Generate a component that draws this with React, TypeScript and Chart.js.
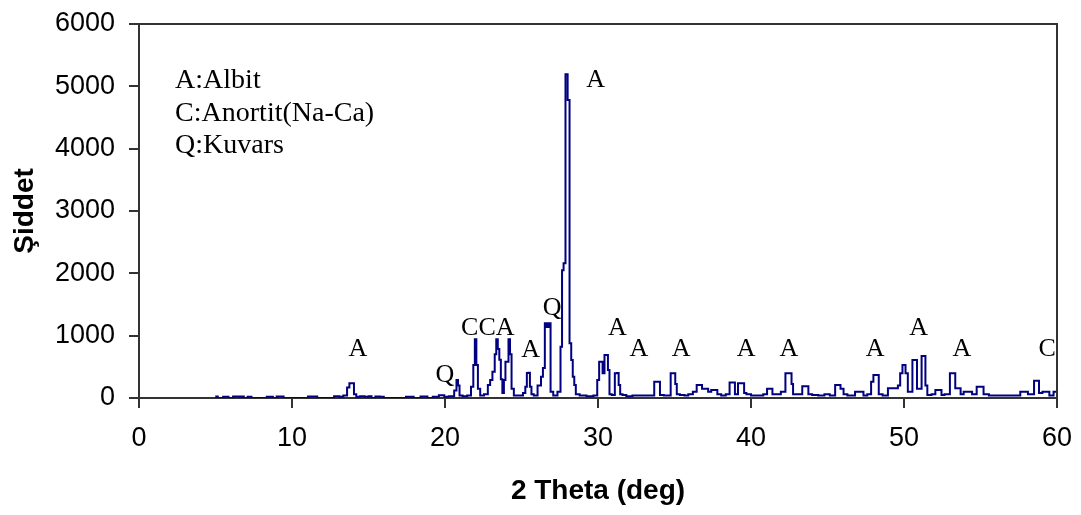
import React, { useEffect, useRef } from "react";
import { Chart, registerables } from "chart.js";

Chart.register(...registerables);

// 2-theta positions (deg) and measured intensities
const twoTheta: number[] = [
  5.0, 5.1, 5.2, 5.8, 5.9, 6.4, 6.6, 6.7, 6.8, 6.9, 7.3, 7.4, 8.0, 8.7, 8.8, 9.2, 9.4, 9.5, 10.5, 11.6, 11.7,
  12.5, 13.0, 13.2, 13.5, 13.7, 13.8, 14.0, 14.1, 14.3, 14.6, 14.9, 15.1, 15.3, 15.6, 15.9, 16.1, 17.0, 17.9,
  18.0, 18.8, 18.9, 19.5, 19.7, 19.9, 20.0, 20.5, 20.7, 20.8, 20.9, 21.0, 21.3, 21.6, 21.8, 21.9, 22.0, 22.1,
  22.2, 22.4, 22.7, 22.9, 23.0, 23.2, 23.3, 23.4, 23.5, 23.6, 23.7, 23.8, 23.9, 24.0, 24.1, 24.2, 24.3, 24.4,
  24.6, 25.0, 25.2, 25.3, 25.4, 25.5, 25.6, 25.7, 25.9, 26.2, 26.35, 26.45, 26.6, 26.7, 26.85, 26.95, 27.2,
  27.5, 27.6, 27.7, 27.8, 27.95, 28.08, 28.2, 28.3, 28.4, 28.5, 28.6, 29.0, 29.5, 29.9, 30.0, 30.15, 30.25,
  30.35, 30.5, 30.6, 30.7, 30.8, 31.0, 31.2, 31.3, 31.4, 31.5, 31.7, 32.0, 32.5, 33.0, 33.5, 33.85, 34.0,
  34.1, 34.5, 35.0, 35.1, 35.2, 35.5, 35.8, 36.0, 36.4, 36.5, 36.7, 36.9, 37.1, 37.3, 37.5, 37.7, 37.9, 38.2,
  38.5, 38.7, 38.9, 39.0, 39.3, 39.5, 39.6, 39.8, 40.2, 40.6, 41.0, 41.1, 41.3, 41.5, 41.8, 42.1, 42.4, 42.6,
  42.7, 42.8, 43.2, 43.5, 43.7, 43.8, 44.2, 44.6, 45.0, 45.3, 45.7, 46.0, 46.1, 46.5, 47.1, 47.3, 47.4, 47.8,
  47.9, 48.1, 48.3, 48.4, 48.8, 49.1, 49.3, 49.5, 49.7, 49.8, 50.0, 50.2, 50.3, 50.5, 50.6, 50.8, 50.9, 51.1,
  51.2, 51.35, 51.45, 51.6, 52.0, 52.1, 52.4, 52.5, 52.8, 53.2, 53.3, 53.4, 53.6, 53.8, 54.0, 54.3, 54.6,
  54.9, 55.1, 55.3, 55.8, 56.5, 57.0, 57.5, 57.7, 58.0, 58.2, 58.4, 58.6, 58.75, 58.9, 59.2, 59.4, 59.6, 59.95,
];

const intensity: number[] = [
  0, 25, 0, 20, 0, 25, 25, 0, 25, 0, 20, 0, 0, 20, 0, 25, 25, 0, 0, 25, 0,
  0, 30, 20, 40, 170, 236, 236, 60, 20, 30, 20, 30, 0, 25, 20, 0, 0, 20,
  0, 25, 0, 20, 45, 45, 20, 30, 120, 289, 200, 40, 30, 40, 180, 530, 942, 530,
  150, 40, 60, 209, 289, 422, 700, 942, 785, 615, 300, 80, 289, 583, 583, 942, 700, 150,
  40, 40, 80, 180, 400, 406, 180, 60, 40, 200, 340, 480, 1200, 1140, 1200, 100, 40,
  100, 824, 2050, 2160, 5193, 4781, 880, 610, 340, 210, 60, 40, 30, 40, 290, 583, 583,
  396, 690, 690, 449, 60, 50, 396, 400, 209, 60, 50, 30, 40, 40, 40, 262, 262,
  50, 40, 396, 224, 60, 50, 40, 60, 100, 209, 209, 150, 150, 100, 130, 130, 60, 40,
  60, 250, 250, 60, 235, 235, 80, 60, 40, 40, 60, 150, 150, 60, 60, 100, 396, 396,
  224, 60, 60, 190, 190, 60, 50, 40, 60, 40, 209, 150, 60, 40, 102, 102, 40, 60,
  262, 369, 369, 60, 40, 155, 155, 155, 200, 396, 530, 396, 100, 100, 610, 610, 150, 150,
  674, 674, 200, 50, 60, 128, 128, 50, 60, 396, 396, 155, 155, 60, 100, 100, 60,
  182, 182, 60, 40, 40, 40, 40, 102, 102, 60, 60, 278, 278, 80, 100, 100, 40, 100,
];

// Axis ticks
const xTicks: number[] = [0, 10, 20, 30, 40, 50, 60];
const yTicks: number[] = [0, 1000, 2000, 3000, 4000, 5000, 6000];

// Phase labels above peaks (2θ, intensity at text baseline)
const peakLabelText: string[] = ["A", "Q", "CCA", "A", "Q", "A", "A", "A", "A", "A", "A", "A", "A", "A", "C"];
const peakLabelX: number[] = [14.3, 20.0, 22.8, 25.6, 27.0, 29.84, 31.26, 32.68, 35.44, 39.68, 42.48, 48.12, 50.96, 53.79, 59.35];
const peakLabelY: number[] = [666, 257, 1011, 658, 1332, 4990, 1011, 666, 666, 666, 666, 666, 1011, 666, 666];

// Key text (top-left)
const keyLines: string[] = ["A:Albit", "C:Anortit(Na-Ca)", "Q:Kuvars"];
const keyX = 2.36;
const keyY: number[] = [4974, 4444, 3931];

const serif = '"Liberation Serif", "Times New Roman", serif';
const sans = '"Liberation Sans", Arial, sans-serif';

const textPlugin = {
  id: "peakText",
  beforeDatasetsDraw(chart: any) {
    const { ctx, chartArea } = chart;
    ctx.save();
    ctx.strokeStyle = "#333";
    ctx.lineWidth = 2;
    ctx.beginPath();
    ctx.moveTo(chartArea.left, chartArea.top);
    ctx.lineTo(chartArea.right, chartArea.top);
    ctx.lineTo(chartArea.right, chartArea.bottom);
    ctx.stroke();
    ctx.restore();
  },
  afterDatasetsDraw(chart: any) {
    const { ctx } = chart;
    const xs = chart.scales.x;
    const ys = chart.scales.y;
    ctx.save();
    ctx.fillStyle = "#000";
    ctx.font = `26px ${serif}`;
    ctx.textBaseline = "alphabetic";
    ctx.textAlign = "center";
    peakLabelText.forEach((t, i) => {
      ctx.fillText(t, xs.getPixelForValue(peakLabelX[i]), ys.getPixelForValue(peakLabelY[i]));
    });
    ctx.font = `28px ${serif}`;
    ctx.textAlign = "left";
    keyLines.forEach((t, i) => {
      ctx.fillText(t, xs.getPixelForValue(keyX), ys.getPixelForValue(keyY[i]));
    });
    ctx.restore();
  },
};

export default function App() {
  const ref = useRef<HTMLCanvasElement | null>(null);
  useEffect(() => {
    if (!ref.current) return;
    const data = twoTheta.map((x, i) => ({ x, y: intensity[i] }));
    const chart = new Chart(ref.current, {
      type: "line",
      data: {
        datasets: [
          {
            data,
            borderColor: "#000080",
            borderWidth: 2,
            pointRadius: 0,
            stepped: "middle",
            fill: false,
          },
        ],
      },
      options: {
        animation: false,
        responsive: false,
        layout: { padding: { top: 24, right: 24, left: 0, bottom: 0 } },
        plugins: { legend: { display: false }, tooltip: { enabled: false } },
        scales: {
          x: {
            type: "linear",
            min: 0,
            max: 60,
            afterBuildTicks: (s: any) => {
              s.ticks = xTicks.map((v) => ({ value: v }));
            },
            afterFit: (s: any) => {
              s.height = 117;
              s.paddingLeft = 0;
              s.paddingRight = 0;
            },
            ticks: { font: { size: 27, family: sans }, color: "#000", padding: 14, maxRotation: 0, callback: (v: any) => String(v) },
            grid: { drawOnChartArea: false, drawTicks: true, tickLength: 10, color: "#333", lineWidth: 2 },
            border: { display: true, color: "#333", width: 2 },
            title: {
              display: true,
              text: "2 Theta (deg)",
              font: { size: 28, weight: "bold", family: sans },
              color: "#000",
              padding: { top: 0, bottom: 7 },
            },
          },
          y: {
            type: "linear",
            min: 0,
            max: 6000,
            afterBuildTicks: (s: any) => {
              s.ticks = yTicks.map((v) => ({ value: v }));
            },
            afterFit: (s: any) => {
              s.width = 139;
              s.paddingTop = 0;
              s.paddingBottom = 0;
            },
            ticks: { font: { size: 27, family: sans }, color: "#000", padding: 14, callback: (v: any) => String(v) },
            grid: { drawOnChartArea: false, drawTicks: true, tickLength: 10, color: "#333", lineWidth: 2 },
            border: { display: true, color: "#333", width: 2 },
            title: {
              display: true,
              text: "Şiddet",
              font: { size: 28, weight: "bold", family: sans },
              color: "#000",
              padding: { top: 8, bottom: 0 },
            },
          },
        },
      },
      plugins: [textPlugin],
    });
    return () => chart.destroy();
  }, []);
  return (
    <div style={{ position: "absolute", left: 0, top: 0, width: 1081, height: 515, background: "#fff" }}>
      <canvas ref={ref} width={1081} height={515} />
    </div>
  );
}
